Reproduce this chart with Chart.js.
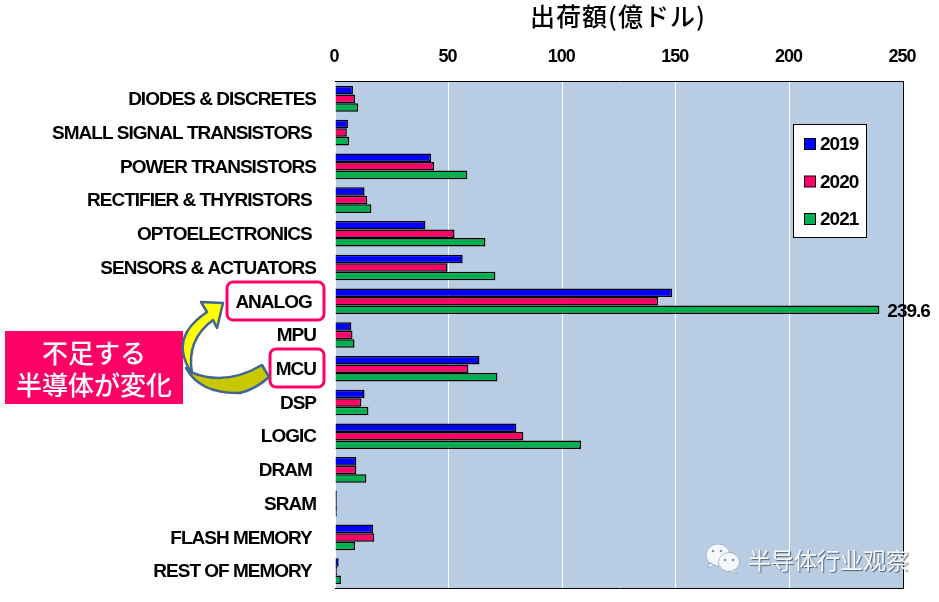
<!DOCTYPE html>
<html>
<head>
<meta charset="utf-8">
<style>
  html, body { margin: 0; padding: 0; background: #fff; }
  #chart { display: block; }
</style>
<script src="https://cdn.jsdelivr.net/npm/chart.js@4"></script>
</head>
<body>
<canvas id="chart" width="939" height="602"></canvas>
<script>
const categories = ['DIODES & DISCRETES', 'SMALL SIGNAL TRANSISTORS ', 'POWER TRANSISTORS', 'RECTIFIER & THYRISTORS ',
    'OPTOELECTRONICS ', 'SENSORS & ACTUATORS', 'ANALOG ', 'MPU', 'MCU', 'DSP', 'LOGIC', 'DRAM ', 'SRAM', 'FLASH MEMORY ', 'REST OF MEMORY '];
const v2019 = [7.9, 5.7, 42.3, 13, 39.8, 56.2, 148.4, 7.2, 63.6, 13, 79.8, 9.4, 0.8, 16.8, 1.6];
const v2020 = [8.8, 5.2, 43.6, 14.2, 52.6, 49.5, 142.2, 7.7, 58.7, 11.6, 82.9, 9.4, 0.8, 17.3, 1];
const v2021 = [10.2, 6.2, 58.2, 16, 66.2, 70.6, 239.6, 8.6, 71.5, 14.7, 108.3, 13.8, 0.8, 8.8, 2.6];

const latin = '"Liberation Sans", sans-serif';
const pink = '#ff0066';

function roundBox(ctx, x, y, w, h, r) {
    ctx.beginPath();
    ctx.roundRect(x, y, w, h, r);
    ctx.fillStyle = '#fff';
    ctx.fill();
    ctx.lineWidth = 3;
    ctx.strokeStyle = pink;
    ctx.stroke();
}

// plot background and the two label callouts, under everything //
const backdrop = {
    id: 'backdrop',
    beforeDraw(chart) {
        const { ctx, chartArea: a } = chart;
        // no narrow font installed, so pull the latin labels in a bit //
        ctx.letterSpacing = '-1px';
        ctx.save();
        ctx.fillStyle = '#b8cce4';
        ctx.fillRect(a.left, a.top, a.right - a.left, a.bottom - a.top);
        roundBox(ctx, 227, 282, 97, 38, 6);
        roundBox(ctx, 270, 349, 54, 38, 6);
        ctx.restore();
    }
};

function drawArrow(ctx) {
    ctx.lineJoin = 'round';
    ctx.lineWidth = 2.5;
    ctx.strokeStyle = '#41668f';

    // lower band, runs from MCU round to the bend //
    ctx.beginPath();
    ctx.moveTo(262, 365);
    ctx.quadraticCurveTo(226, 386, 193, 373);
    ctx.lineTo(186, 368);
    ctx.quadraticCurveTo(200, 394, 240, 393);
    ctx.quadraticCurveTo(256, 389, 269, 377);
    ctx.closePath();
    ctx.fillStyle = '#c8c800';
    ctx.fill();
    ctx.stroke();

    // upper band and head, points at ANALOG //
    ctx.beginPath();
    ctx.moveTo(223, 303);
    ctx.lineTo(201, 302);
    ctx.lineTo(207, 312);
    ctx.quadraticCurveTo(180, 330, 183, 352);
    ctx.quadraticCurveTo(185, 364, 192, 373);
    ctx.quadraticCurveTo(186, 340, 213, 320);
    ctx.lineTo(217, 328);
    ctx.closePath();
    ctx.fillStyle = '#ffff00';
    ctx.fill();
    ctx.stroke();
}

function drawWeChat(ctx) {
    ctx.fillStyle = '#f4f7fb';
    ctx.strokeStyle = '#8c99a8';
    ctx.lineWidth = 0.6;
    ctx.beginPath();
    ctx.ellipse(718, 555, 12, 11, 0, 0, Math.PI * 2);
    ctx.moveTo(710, 562);
    ctx.lineTo(708, 568);
    ctx.lineTo(715, 565);
    ctx.fill();
    ctx.stroke();
    ctx.beginPath();
    ctx.ellipse(729, 562, 10.5, 9.5, 0, 0, Math.PI * 2);
    ctx.moveTo(733, 569);
    ctx.lineTo(737, 574);
    ctx.lineTo(728, 571);
    ctx.fill();
    ctx.stroke();
    ctx.fillStyle = '#7f8c9a';
    [[713, 551], [721, 551], [725, 560], [733, 560]].forEach(p => {
        ctx.beginPath();
        ctx.arc(p[0], p[1], 1.2, 0, Math.PI * 2);
        ctx.fill();
    });
}

// frame, legend, value label, call-out and watermark //
const overlay = {
    id: 'overlay',
    afterDatasetsDraw(chart) {
        const { ctx, chartArea: a } = chart;
        ctx.save();

        // top, right and bottom only, the left side has no line //
        ctx.strokeStyle = '#000';
        ctx.lineWidth = 1;
        ctx.beginPath();
        ctx.moveTo(a.left, a.top - 0.5);
        ctx.lineTo(a.right + 0.5, a.top - 0.5);
        ctx.lineTo(a.right + 0.5, a.bottom + 0.5);
        ctx.lineTo(a.left, a.bottom + 0.5);
        ctx.stroke();

        // legend box, entries read from the datasets //
        ctx.fillStyle = '#fff';
        ctx.fillRect(793.5, 124.5, 73, 113);
        ctx.strokeRect(793.5, 124.5, 73, 113);
        ctx.textAlign = 'left';
        ctx.textBaseline = 'middle';
        ctx.font = 'bold 19px ' + latin;
        chart.data.datasets.forEach((d, i) => {
            const y = 144 + i * 37.5;
            ctx.fillStyle = d.backgroundColor;
            ctx.fillRect(804.5, y - 5.5, 11, 11);
            ctx.strokeRect(804.5, y - 5.5, 11, 11);
            ctx.fillStyle = '#000';
            ctx.fillText(d.label, 820, y + 1);
        });

        // only the 2021 ANALOG bar carries a value //
        const bar = chart.getDatasetMeta(2).data[6];
        ctx.fillStyle = '#000';
        ctx.fillText(v2021[6].toFixed(1), bar.x + 8, bar.y + 2);

        // japanese text keeps its normal spacing //
        ctx.letterSpacing = '1px';
        ctx.textAlign = 'center';
        ctx.font = '500 25px "Noto Sans CJK JP", sans-serif';
        ctx.fillText('出荷額(億ドル)', 618, 16);

        ctx.letterSpacing = '0px';
        ctx.fillStyle = pink;
        ctx.fillRect(5, 331, 178, 73);
        ctx.fillStyle = '#fff';
        ctx.font = '500 26px "Noto Sans CJK JP", sans-serif';
        ctx.fillText('不足する', 94, 353);
        ctx.fillText('半導体が変化', 94, 385);

        drawArrow(ctx);
        drawWeChat(ctx);

        ctx.textAlign = 'left';
        ctx.font = '23px "Noto Sans CJK SC", sans-serif';
        ctx.shadowColor = 'rgba(60, 70, 80, 0.8)';
        ctx.shadowOffsetX = 1;
        ctx.shadowOffsetY = 1;
        ctx.shadowBlur = 1;
        ctx.fillStyle = '#f6f8fb';
        ctx.fillText('半导体行业观察', 748, 560);
        ctx.restore();
    }
};

const barStyle = { borderColor: '#000', borderWidth: 1.5, categoryPercentage: 0.76, barPercentage: 1 };

new Chart(document.querySelector('#chart').getContext('2d'), {
    type: 'bar',
    data: {
        labels: categories,
        datasets: [
            { label: '2019', data: v2019, backgroundColor: '#0000ff', ...barStyle },
            { label: '2020', data: v2020, backgroundColor: pink, ...barStyle },
            { label: '2021', data: v2021, backgroundColor: '#00b050', ...barStyle }
        ]
    },
    options: {
        indexAxis: 'y',
        responsive: false,
        animation: false,
        layout: { padding: { right: 36, bottom: 14 } },
        plugins: { legend: { display: false }, tooltip: { enabled: false } },
        scales: {
            x: {
                position: 'top',
                min: 0,
                max: 250,
                afterFit(scale) { scale.height = 82; },
                ticks: {
                    stepSize: 50,
                    maxRotation: 0,
                    padding: 14,
                    labelOffset: -1,
                    color: '#000',
                    font: { family: latin, size: 18, weight: 'bold' }
                },
                grid: { color: '#fff', lineWidth: 1, drawTicks: false },
                border: { display: false }
            },
            y: {
                afterFit(scale) {
                    scale.width = 335;
                    scale.paddingTop = 0;
                    scale.paddingBottom = 0;
                },
                ticks: {
                    autoSkip: false,
                    padding: 19,
                    labelOffset: 1,
                    color: '#000',
                    font: { family: latin, size: 19, weight: 'bold' }
                },
                grid: { display: false, drawTicks: false },
                border: { display: false }
            }
        }
    },
    plugins: [backdrop, overlay]
});
</script>
</body>
</html>
